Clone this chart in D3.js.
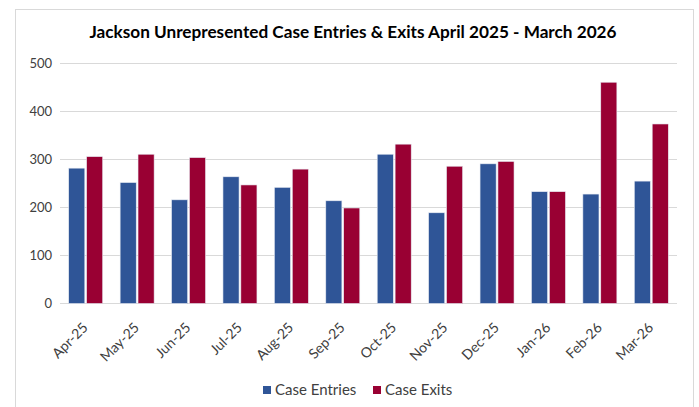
<!DOCTYPE html>
<html>
<head>
<meta charset="utf-8">
<script src="https://cdn.jsdelivr.net/npm/d3@7"></script>
<style>
  body { margin: 0; background: #fff; }
  text { font-family: Lato, "Open Sans", sans-serif; fill: #404040; }
</style>
</head>
<body>
<div id="chart"></div>
<script>
// data
var months = ["Apr-25", "May-25", "Jun-25", "Jul-25", "Aug-25", "Sep-25",
              "Oct-25", "Nov-25", "Dec-25", "Jan-26", "Feb-26", "Mar-26"];
var seriesNames = ["Case Entries", "Case Exits"];
var caseEntries = [282, 252, 216, 264, 242, 214, 311, 189, 291, 233, 228, 255];
var caseExits   = [306, 311, 304, 247, 280, 199, 332, 286, 296, 233, 461, 374];
var yTicks = [0, 100, 200, 300, 400, 500];
var colors = ["#2F5597", "#990033"];

var W = 699, H = 407;
var margin = { top: 63.5, right: 22, bottom: 103.5, left: 60 },
    width = W - margin.left - margin.right,
    height = H - margin.top - margin.bottom;

var svg = d3.select("#chart").append("svg")
  .attr("width", W).attr("height", H);

// chart frame
svg.append("rect")
  .attr("x", 15.5).attr("y", 9.5)
  .attr("width", 678).attr("height", 410)
  .attr("fill", "#fff").attr("stroke", "#d9d9d9");

svg.append("text")
  .attr("x", 353).attr("y", 38)
  .attr("text-anchor", "middle")
  .style("font-size", "17.2px").style("font-weight", "bold")
  .style("fill", "#000")
  .text("Jackson Unrepresented Case Entries & Exits April 2025 - March 2026");

var g = svg.append("g")
  .attr("transform", "translate(" + margin.left + "," + margin.top + ")");

var x = d3.scaleBand().domain(months).range([0, width]);
var x1 = d3.scaleBand().domain(seriesNames).range([x.bandwidth() / 2 - 17, x.bandwidth() / 2 + 17]).paddingInner(0.1);
var y = d3.scaleLinear().domain([0, 500]).range([height, 0]);

// gridlines
g.selectAll(".grid").data(yTicks).enter().append("line")
  .attr("x1", 0).attr("x2", width)
  .attr("y1", function (d) { return y(d); })
  .attr("y2", function (d) { return y(d); })
  .attr("stroke", "#d9d9d9").attr("stroke-width", 1);

// y axis labels
var yAxis = g.append("g").call(d3.axisLeft(y).tickValues(yTicks).tickSize(0).tickPadding(8));
yAxis.select(".domain").remove();
yAxis.selectAll("text").style("font-size", "13px").style("fill", "#404040")
  .style("font-family", "Lato, 'Open Sans', sans-serif");

// bars
var rows = months.map(function (m, i) {
  return { month: m, values: [caseEntries[i], caseExits[i]] };
});
var groups = g.selectAll(".month").data(rows).enter().append("g")
  .attr("transform", function (d) { return "translate(" + x(d.month) + ",0)"; });
groups.selectAll("rect")
  .data(function (d) { return d.values.map(function (v, k) { return { key: seriesNames[k], v: v, k: k }; }); })
  .enter().append("rect")
  .attr("x", function (d) { return x1(d.key); })
  .attr("width", x1.bandwidth())
  .attr("y", function (d) { return y(d.v); })
  .attr("height", function (d) { return height - y(d.v); })
  .attr("fill", function (d) { return colors[d.k]; })
  .attr("stroke", "#e8ecf4").attr("stroke-width", 0.6);

// x axis labels
var xAxis = g.append("g").attr("transform", "translate(0," + height + ")")
  .call(d3.axisBottom(x).tickSize(0).tickPadding(0));
xAxis.select(".domain").remove();
xAxis.selectAll("text")
  .style("font-size", "14px").style("fill", "#404040")
  .style("font-family", "Lato, 'Open Sans', sans-serif")
  .attr("text-anchor", "end")
  .attr("dy", null).attr("y", 0)
  .attr("transform", "translate(3,25) rotate(-45)");

// legend
var legend = svg.append("g").attr("transform", "translate(263,390)");
var lx = [0, 110];
seriesNames.forEach(function (name, i) {
  legend.append("rect").attr("x", lx[i]).attr("y", -4).attr("width", 8).attr("height", 8)
    .attr("fill", colors[i]);
  legend.append("text").attr("x", lx[i] + 12).attr("y", 0).attr("dy", "0.35em")
    .style("font-size", "15px").text(name);
});
</script>
</body>
</html>
